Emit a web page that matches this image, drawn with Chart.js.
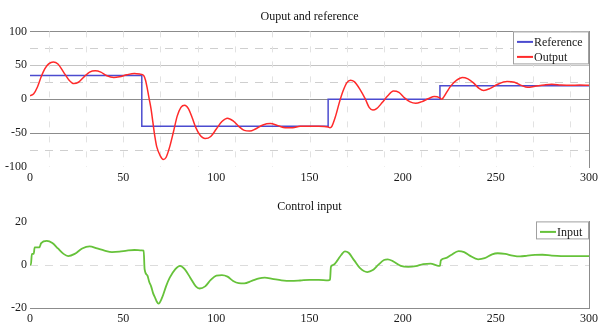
<!DOCTYPE html>
<html>
<head>
<meta charset="utf-8">
<title>Ouput and reference</title>
<script src="https://cdn.jsdelivr.net/npm/chart.js@4.4.0/dist/chart.umd.min.js"></script>
<style>
  html, body { margin: 0; padding: 0; background: #fff; }
  canvas { display: block; }
</style>
</head>
<body>
<canvas id="outputChart" width="599" height="190"></canvas>
<canvas id="inputChart" width="599" height="132"></canvas>
<script>
// Reference (step signal)
const refT = [0, 60, 160, 220, 300];
const refY = [35, -40, 0, 20, 20];

// Plant output
const outT = [0, 2, 4, 6, 8, 10, 12.5, 15, 18, 21, 23.5, 26, 29, 32, 35, 38, 41, 45, 48, 52, 56, 59,
  61, 62, 63, 64, 65, 66, 67, 68, 70, 71.5, 73, 75, 77, 79, 81, 83, 85, 87, 89, 91, 94, 97, 100,
  103, 106, 109, 112, 115, 118, 121, 125, 129, 133, 137, 141, 145, 150, 155, 160, 161, 162, 164,
  166, 168, 170, 172, 174, 177, 180, 182, 184, 186, 189, 192, 195, 198, 201, 204, 207, 210, 214,
  217, 220, 221, 222, 224, 226, 229, 232, 235, 238, 241, 243.5, 247, 251, 256, 260, 264, 267,
  271, 276, 280, 285, 290, 295, 300];
const outY = [5, 8, 18, 33, 45, 52, 55, 52, 40, 28, 23, 25, 33, 40, 42, 40, 35, 32, 33, 36, 38, 37,
  35, 28, 15, 0, -15, -35, -55, -70, -84, -89, -86, -70, -48, -25, -12, -9, -14, -27, -42, -52, -58, -55, -44,
  -33, -28, -32, -40, -46, -47, -44, -38, -36, -39, -42, -42, -40, -40, -40, -41, -42, -40, -25,
  -5, 12, 24, 28, 26, 15, 0, -12, -16, -14, -5, 5, 12, 10, 2, -4, -6, -4, 1,
  4, 2, 0, 3, 12, 20, 28, 32, 30, 24, 16, 13, 16, 22, 26, 25, 20, 17.5,
  19, 21, 22, 21, 20.5, 21, 20.5];

// Control input
const inT = [0, 0.5, 1, 2, 2.5, 5, 6, 9, 12, 15, 18, 20.5, 24, 28, 32, 36, 40, 44, 48, 52, 56, 60,
  61, 61.5, 63, 64, 65, 66, 67, 68, 69, 71, 73, 75, 78, 80.5, 83, 86, 89, 91, 94, 97, 100, 103,
  106, 109, 112, 115, 119, 123, 126, 130, 135, 140, 145, 150, 155, 160, 161, 161.5, 163, 165,
  167, 169, 171, 174, 177, 181, 184, 187, 190, 192, 195, 199, 203, 207, 211, 215, 219, 220,
  220.5, 223, 226, 230, 233, 236, 240.5, 244, 248, 251, 255, 259, 263, 267, 271, 275, 280,
  285, 290, 295, 300];
const inY = [0, 0, 5, 5, 8, 8, 10, 11, 10, 7.5, 5, 4, 5, 7.5, 8.5, 7.5, 6.5, 5.8, 6, 6.5, 6.8, 6.6,
  6.5, -2, -5, -8, -10, -13, -15, -17, -18, -15, -10, -6, -2, -0.5, -2, -6, -10, -11, -10, -7, -5, -4.8,
  -5.5, -7.5, -8.5, -8.6, -7.5, -6.3, -6, -6.5, -7.2, -7.5, -7.3, -7, -7, -7.2, -7, -1, 0, 2,
  4.5, 6.2, 5.5, 2, -1.5, -3.4, -2.5, 0, 2.2, 2.5, 1.5, -0.5, -1, -0.7, 0.3, 0.5, -0.5, -0.5,
  2, 3, 4.5, 6.3, 5.8, 4.2, 2.5, 3, 4.8, 5.3, 5, 4.2, 3.8, 4.2, 4.5, 4.6, 4.2,
  4, 4, 4, 4];

// Axis ticks and faint guide lines
const xLabels = [0, 50, 100, 150, 200, 250, 300];
const topYTicks = [-100, -50, 0, 50, 100];
const bottomYTicks = [-20, 0, 20];
const topDashLevels = [75, 25, -75];
const topVGrid = [10, 30, 50, 70, 90, 110, 130, 150, 170, 190, 210, 230, 250, 270, 290];
const bottomDashLevels = [0];

Chart.defaults.font.family = "'Liberation Serif', 'DejaVu Serif', serif";
Chart.defaults.font.size = 12;
Chart.defaults.color = '#1a1a1a';
Chart.defaults.animation = false;

const pts = (t, y) => t.map((v, i) => ({ x: v, y: y[i] }));

// light dashed guide lines drawn through the scales
const guideLines = {
    id: 'guideLines',
    beforeDatasetsDraw(chart, args, opts) {
        const { ctx, chartArea, scales } = chart;
        ctx.save();
        ctx.lineWidth = 1;
        ctx.strokeStyle = opts.color;
        ctx.setLineDash([8, 7]);
        (opts.levels || []).forEach(v => {
            const y = Math.round(scales.y.getPixelForValue(v)) + 0.5;
            ctx.beginPath();
            ctx.moveTo(chartArea.left, y);
            ctx.lineTo(chartArea.right, y);
            ctx.stroke();
        });
        ctx.strokeStyle = opts.vColor || opts.color;
        ctx.setLineDash([6, 9]);
        (opts.vLevels || []).forEach(v => {
            const x = Math.round(scales.x.getPixelForValue(v)) + 0.5;
            ctx.beginPath();
            ctx.moveTo(x, chartArea.top);
            ctx.lineTo(x, chartArea.bottom);
            ctx.stroke();
        });
        ctx.restore();
    }
};

// boxed legend sitting in the top right corner of the plot
const boxLegend = {
    id: 'boxLegend',
    afterDatasetsDraw(chart) {
        const { ctx, chartArea } = chart;
        const sets = chart.data.datasets;
        ctx.save();
        ctx.font = "12px 'Liberation Serif', 'DejaVu Serif', serif";
        const textW = Math.max(...sets.map(d => ctx.measureText(d.label).width));
        const w = Math.ceil(textW + 27);
        const h = sets.length * 15 + 3;
        const left = chartArea.right - w;
        const top = chartArea.top;
        ctx.fillStyle = '#fff';
        ctx.fillRect(left, top, w, h);
        ctx.strokeStyle = '#a0a0a0';
        ctx.lineWidth = 1;
        ctx.strokeRect(left + 0.5, top + 0.5, w - 1, h - 1);
        sets.forEach((d, i) => {
            const y = top + 10.5 + i * 15;
            ctx.strokeStyle = d.borderColor;
            ctx.lineWidth = 2;
            ctx.beginPath();
            ctx.moveTo(left + 4, y);
            ctx.lineTo(left + 20, y);
            ctx.stroke();
            ctx.fillStyle = '#1a1a1a';
            ctx.textBaseline = 'middle';
            ctx.fillText(d.label, left + 21, y + 0.5);
        });
        ctx.restore();
    }
};

function xAxis(height, opts) {
    return Object.assign({
        type: 'linear',
        min: 0,
        max: 300,
        afterBuildTicks: s => { s.ticks = xLabels.map(v => ({ value: v })); },
        afterFit: s => {
            s.height = height;
            s.paddingLeft = 0;
            s.paddingRight = 9;
        },
        ticks: { padding: 4, maxRotation: 0, autoSkip: false },
        grid: { display: false, drawTicks: false }
    }, opts);
}

function rightBorder() {
    return {
        position: 'right',
        afterFit: s => { s.width = 0; },
        ticks: { display: false },
        grid: { display: false, drawTicks: false },
        border: { display: true, color: '#8c8c8c', width: 1 }
    };
}

new Chart(document.getElementById('outputChart'), {
    type: 'line',
    data: {
        datasets: [{
            label: 'Reference',
            data: pts(refT, refY),
            borderColor: '#4b4bcf',
            borderWidth: 1.5,
            stepped: 'before',
            pointRadius: 0,
            order: 1
        }, {
            label: 'Output',
            data: pts(outT, outY),
            borderColor: '#ff2a2a',
            borderWidth: 1.5,
            cubicInterpolationMode: 'monotone',
            pointRadius: 0,
            order: 0
        }]
    },
    options: {
        responsive: false,
        layout: { padding: { right: 10 } },
        plugins: {
            legend: { display: false },
            tooltip: { enabled: false },
            title: {
                display: true,
                text: 'Ouput and reference',
                fullSize: false,
                color: '#111',
                font: { size: 12, weight: 'normal' },
                padding: { top: 10, bottom: 7 }
            },
            guideLines: { levels: topDashLevels, vLevels: topVGrid, color: '#cfcfcf', vColor: '#e2e2e2' }
        },
        scales: {
            x: xAxis(23, { border: { display: false } }),
            y: {
                min: -100,
                max: 100,
                afterBuildTicks: s => { s.ticks = topYTicks.map(v => ({ value: v })); },
                afterFit: s => { s.width = 30; },
                ticks: { padding: 3 },
                border: { display: false },
                grid: {
                    drawTicks: false,
                    lineWidth: 1,
                    color: c => {
                        const v = c.tick.value;
                        if (v === -100) return 'rgba(0,0,0,0)';
                        if (v === 50) return '#c4c4c4';
                        return '#8c8c8c';
                    }
                }
            },
            yr: rightBorder()
        }
    },
    plugins: [guideLines, boxLegend]
});

new Chart(document.getElementById('inputChart'), {
    type: 'line',
    data: {
        datasets: [{
            label: 'Input',
            data: pts(inT, inY),
            borderColor: '#66c23a',
            borderWidth: 1.8,
            cubicInterpolationMode: 'monotone',
            pointRadius: 0
        }]
    },
    options: {
        responsive: false,
        layout: { padding: { right: 10 } },
        plugins: {
            legend: { display: false },
            tooltip: { enabled: false },
            title: {
                display: true,
                text: 'Control input',
                fullSize: false,
                color: '#111',
                font: { size: 12, weight: 'normal' },
                padding: { top: 10, bottom: 7 }
            },
            guideLines: { levels: bottomDashLevels, color: '#dcdcdc' }
        },
        scales: {
            x: xAxis(14, { border: { display: true, color: '#8c8c8c', width: 1 } }),
            y: {
                min: -20,
                max: 20,
                afterBuildTicks: s => { s.ticks = bottomYTicks.map(v => ({ value: v })); },
                afterFit: s => { s.width = 30; },
                ticks: { padding: 3 },
                border: { display: false },
                grid: { display: false, drawTicks: false }
            },
            yr: rightBorder()
        }
    },
    plugins: [guideLines, boxLegend]
});
</script>
</body>
</html>
